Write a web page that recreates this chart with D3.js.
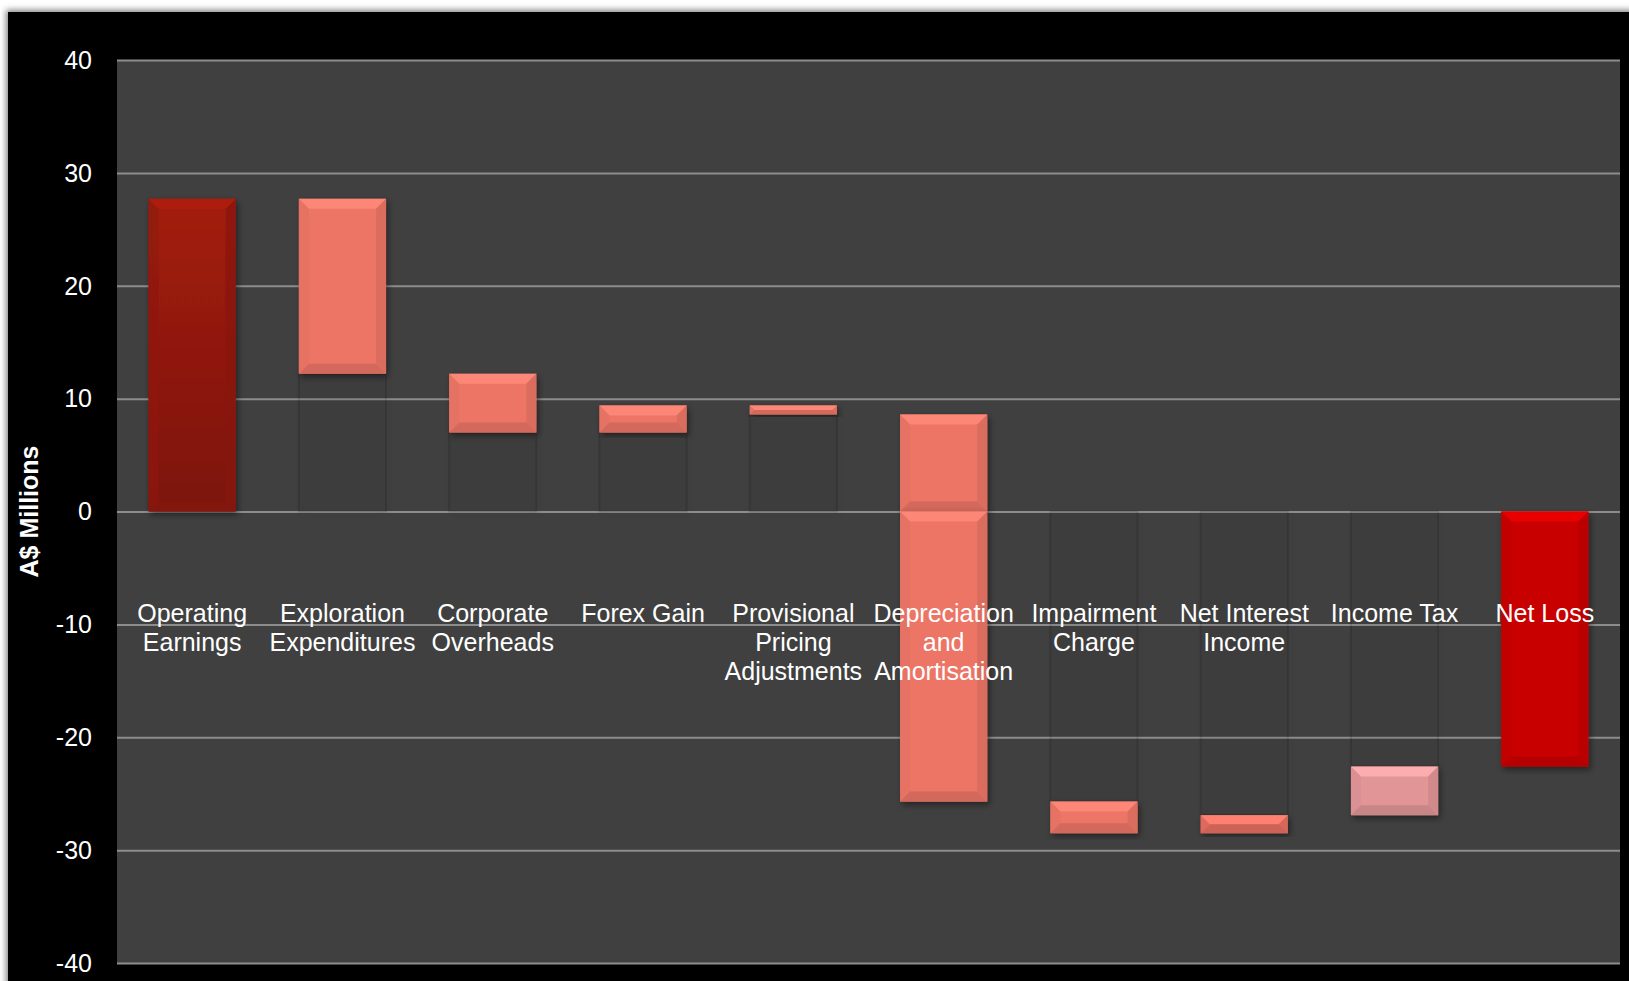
<!DOCTYPE html>
<html>
<head>
<meta charset="utf-8">
<script src="https://cdn.jsdelivr.net/npm/d3@7"></script>
<style>
  body { margin: 0; background: #fff; }
  svg { display: block; font-family: "Liberation Sans", Arial, sans-serif; }
</style>
</head>
<body>
<div id="chart"></div>
<script>
// waterfall data (A$ millions)
var categories = ["Operating\nEarnings", "Exploration\nExpenditures", "Corporate\nOverheads", "Forex Gain",
  "Provisional\nPricing\nAdjustments", "Depreciation\nand\nAmortisation", "Impairment\nCharge",
  "Net Interest\nIncome", "Income Tax", "Net Loss"];
var changes = [27.7, -15.5, -5.2, 2.4, -0.8, -34.3, -2.8, 1.6, 4.3, -22.6];
var isTotal = [true, false, false, false, false, false, false, false, false, true];
var barColors = ["#951a0c", "#ec7566", "#ec7566", "#ec7566", "#ec7566", "#ec7566", "#ec7566",
  "#e56f61", "#e29597", "#c80404"];
var yTicks = [40, 30, 20, 10, 0, -10, -20, -30, -40];

var W = 1629, H = 981;
var plot = {left: 117, right: 1620, top: 60, bottom: 963};

var svg = d3.select("#chart").append("svg")
  .attr("width", W)
  .attr("height", H);

var defs = svg.append("defs");
var shadow = defs.append("filter").attr("id", "shadow")
  .attr("x", "-20%").attr("y", "-20%").attr("width", "140%").attr("height", "140%");
shadow.append("feDropShadow")
  .attr("dx", 2).attr("dy", 3).attr("stdDeviation", 3)
  .attr("flood-color", "#000").attr("flood-opacity", 0.45);

var frameShadow = defs.append("filter").attr("id", "frameShadow")
  .attr("x", "-5%").attr("y", "-5%").attr("width", "110%").attr("height", "110%");
frameShadow.append("feDropShadow")
  .attr("dx", -2).attr("dy", -2).attr("stdDeviation", 3)
  .attr("flood-color", "#000").attr("flood-opacity", 0.5);

var opGrad = defs.append("linearGradient").attr("id", "opGrad")
  .attr("x1", 0).attr("y1", 0).attr("x2", 0).attr("y2", 1);
opGrad.append("stop").attr("offset", "0%").attr("stop-color", "#a31c0d");
opGrad.append("stop").attr("offset", "100%").attr("stop-color", "#7c1509");

/* black panel */
svg.append("rect")
  .attr("x", 8).attr("y", 12)
  .attr("width", W).attr("height", H)
  .attr("fill", "#000")
  .attr("filter", "url(#frameShadow)");

/* Scales */
var x = d3.scaleBand()
  .domain(categories)
  .range([plot.left, plot.right])
  .paddingInner(0.42)
  .paddingOuter(0.21);

var y = d3.scaleLinear()
  .domain([-40, 40])
  .range([plot.bottom, plot.top]);

svg.append("rect")
  .attr("x", plot.left).attr("y", plot.top)
  .attr("width", plot.right - plot.left).attr("height", plot.bottom - plot.top)
  .attr("fill", "#404040");

// gridlines
svg.append("g")
  .attr("transform", `translate(${plot.left},0)`)
  .call(d3.axisLeft(y).tickValues(yTicks).tickSize(-(plot.right - plot.left)).tickFormat(""))
  .call(g => g.select(".domain").remove())
  .selectAll("line")
  .attr("stroke", "#8d8d8d")
  .attr("stroke-width", 2);

/* build waterfall segments */
var segments = [], bases = [];
var running = 0;
categories.forEach(function(c, i) {
  var a, b;
  if (isTotal[i]) { a = 0; b = changes[i]; running = changes[i]; }
  else { a = running; b = running + changes[i]; running = b; }
  var lo = Math.min(a, b), hi = Math.max(a, b);
  if (lo < 0 && hi > 0) {
    segments.push({cat: c, i: i, lo: 0, hi: hi});
    segments.push({cat: c, i: i, lo: lo, hi: 0});
  } else {
    segments.push({cat: c, i: i, lo: lo, hi: hi});
    if (!isTotal[i]) {
      if (lo >= 0) bases.push({cat: c, lo: 0, hi: lo});
      else bases.push({cat: c, lo: hi, hi: 0});
    }
  }
});

// faint "invisible" base columns
svg.append("g").selectAll("rect")
  .data(bases).enter()
  .append("rect")
  .attr("x", d => x(d.cat))
  .attr("y", d => y(d.hi))
  .attr("width", x.bandwidth())
  .attr("height", d => y(d.lo) - y(d.hi))
  .attr("fill", "rgba(0,0,0,0.03)")
  .attr("stroke", "rgba(0,0,0,0.13)")
  .attr("stroke-width", 2)
  .attr("filter", "url(#shadow)");

/* bevelled bars */
var bars = svg.append("g");
segments.forEach(function(s) {
  var x0 = x(s.cat), w = x.bandwidth();
  var y0 = y(s.hi), h = y(s.lo) - y(s.hi);
  var col = barColors[s.i];
  var b = Math.min(10, h / 2, w / 2);
  var g = bars.append("g").attr("filter", "url(#shadow)");
  g.append("rect")
    .attr("x", x0).attr("y", y0).attr("width", w).attr("height", h)
    .attr("fill", s.i === 0 ? "url(#opGrad)" : col);
  var base = d3.color(col);
  var pts = function(arr) { return arr.map(p => p.join(",")).join(" "); };
  // top
  g.append("polygon")
    .attr("points", pts([[x0, y0], [x0 + w, y0], [x0 + w - b, y0 + b], [x0 + b, y0 + b]]))
    .attr("fill", base.brighter(0.45)).attr("opacity", 0.9);
  // bottom
  g.append("polygon")
    .attr("points", pts([[x0, y0 + h], [x0 + w, y0 + h], [x0 + w - b, y0 + h - b], [x0 + b, y0 + h - b]]))
    .attr("fill", base.darker(0.35)).attr("opacity", 0.9);
  // sides
  g.append("polygon")
    .attr("points", pts([[x0, y0], [x0 + b, y0 + b], [x0 + b, y0 + h - b], [x0, y0 + h]]))
    .attr("fill", base.darker(0.12)).attr("opacity", 0.7);
  g.append("polygon")
    .attr("points", pts([[x0 + w, y0], [x0 + w - b, y0 + b], [x0 + w - b, y0 + h - b], [x0 + w, y0 + h]]))
    .attr("fill", base.darker(0.3)).attr("opacity", 0.7);
});

/* y tick labels */
svg.append("g").selectAll("text")
  .data(yTicks).enter()
  .append("text")
  .attr("x", 92)
  .attr("y", d => y(d))
  .attr("dy", "0.35em")
  .attr("text-anchor", "end")
  .attr("fill", "#fff")
  .style("font-size", "25px")
  .text(d => d);

// axis title
svg.append("text")
  .attr("transform", `translate(38, ${(plot.top + plot.bottom) / 2}) rotate(-90)`)
  .attr("text-anchor", "middle")
  .attr("fill", "#fff")
  .style("font-size", "25px")
  .style("font-weight", "bold")
  .text("A$ Millions");

/* category labels */
var labels = svg.append("g").selectAll("text")
  .data(categories).enter()
  .append("text")
  .attr("text-anchor", "middle")
  .attr("fill", "#fff")
  .style("font-size", "25px");

labels.selectAll("tspan")
  .data(d => d.split("\n").map(t => ({cat: d, t: t})))
  .enter()
  .append("tspan")
  .attr("x", d => x(d.cat) + x.bandwidth() / 2)
  .attr("y", (d, i) => 622 + i * 29)
  .text(d => d.t);
</script>
</body>
</html>
